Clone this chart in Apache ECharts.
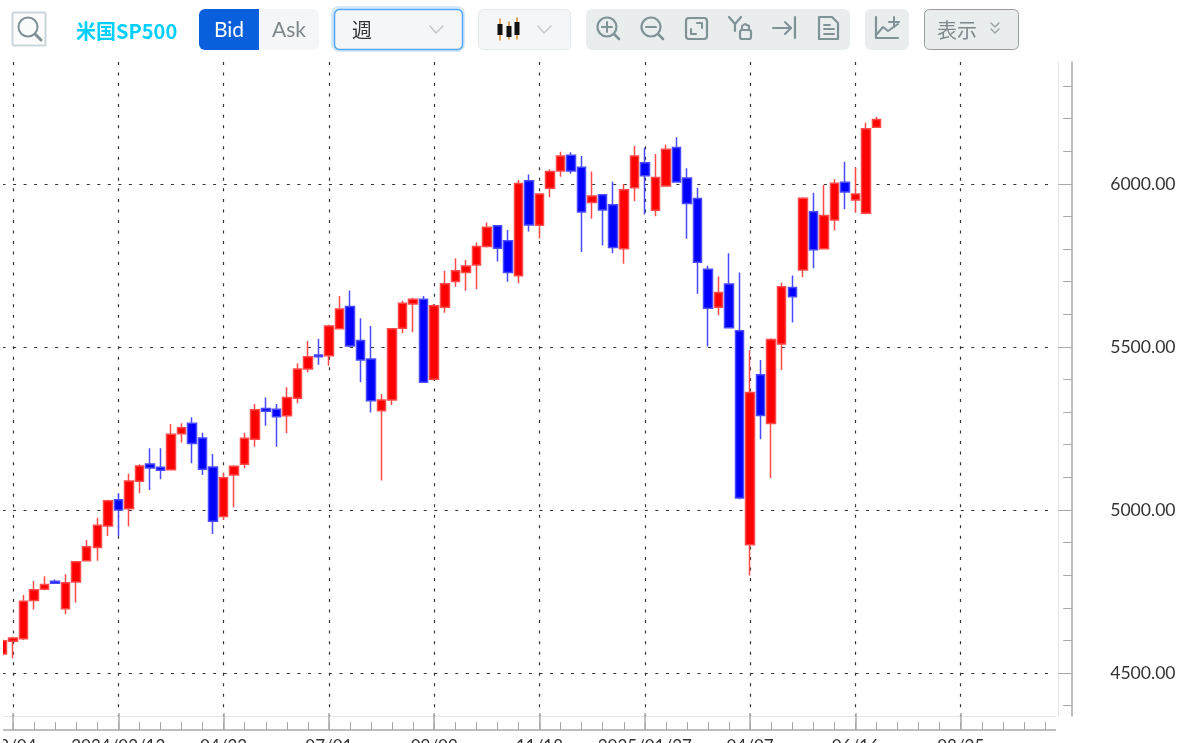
<!DOCTYPE html>
<html><head><meta charset="utf-8">
<style>html,body{margin:0;padding:0;background:#fff;overflow:hidden}#c{width:1182px;height:743px}</style>
<script src="https://cdn.jsdelivr.net/npm/echarts@6/dist/echarts.min.js"></script>
</head><body><div id="c"></div>
<script>
const categories=['2023/11/27','2023/12/04','2023/12/11','2023/12/18','2023/12/25','2024/01/01','2024/01/08','2024/01/15','2024/01/22','2024/01/29','2024/02/05','2024/02/12','2024/02/19','2024/02/26','2024/03/04','2024/03/11','2024/03/18','2024/03/25','2024/04/01','2024/04/08','2024/04/15','2024/04/22','2024/04/29','2024/05/06','2024/05/13','2024/05/20','2024/05/27','2024/06/03','2024/06/10','2024/06/17','2024/06/24','2024/07/01','2024/07/08','2024/07/15','2024/07/22','2024/07/29','2024/08/05','2024/08/12','2024/08/19','2024/08/26','2024/09/02','2024/09/09','2024/09/16','2024/09/23','2024/09/30','2024/10/07','2024/10/14','2024/10/21','2024/10/28','2024/11/04','2024/11/11','2024/11/18','2024/11/25','2024/12/02','2024/12/09','2024/12/16','2024/12/23','2024/12/30','2025/01/06','2025/01/13','2025/01/20','2025/01/27','2025/02/03','2025/02/10','2025/02/17','2025/02/24','2025/03/03','2025/03/10','2025/03/17','2025/03/24','2025/03/31','2025/04/07','2025/04/14','2025/04/21','2025/04/28','2025/05/05','2025/05/12','2025/05/19','2025/05/26','2025/06/02','2025/06/09','2025/06/16','2025/06/23','2025/06/30','2025/07/07','2025/07/14','2025/07/21','2025/07/28','2025/08/04','2025/08/11','2025/08/18','2025/08/25','2025/09/01','2025/09/08','2025/09/15','2025/09/22','2025/09/29','2025/10/06','2025/10/13','2025/10/20','2025/10/27'];
const tickLabels=['12/04','2024/02/12','04/22','07/01','09/09','11/18','2025/01/27','04/07','06/16','08/25'];
const opens=[4558,4597,4605,4722,4757,4781,4697,4779,4844,4885,4951,5031,5004,5088,5141,5131,5123,5234,5266,5221,5132,4980,5107,5140,5217,5311,5309,5289,5343,5432,5475,5473,5556,5624,5520,5463,5304,5337,5557,5632,5646,5401,5622,5701,5728,5751,5808,5872,5826,5718,6010,5873,5987,6040,6088,6051,5943,5967,5936,5801,5988,6065,5919,5994,6112,6018,5955,5738,5622,5693,5550,4893,5415,5265,5509,5682,5736,5915,5801,5889,6005,5951,5910,6174];
const closes=[4599,4607,4720,4755,4771,4775,4777,4841,4887,4953,5028,5000,5089,5135,5129,5122,5232,5252,5204,5125,4965,5099,5134,5220,5307,5303,5286,5345,5432,5470,5470,5564,5616,5503,5460,5335,5337,5556,5634,5646,5392,5626,5694,5734,5748,5808,5867,5803,5728,6001,5874,5969,6038,6086,6040,5914,5963,5920,5805,5982,6086,6025,6020,6106,6006,5940,5760,5619,5667,5559,5037,5360,5290,5523,5685,5654,5956,5798,5903,6002,5975,5969,6169,6198];
const lows=[4552,4545,4601,4695,4754,4773,4680,4716,4843,4844,4920,4920,4949,5051,5061,5094,5121,5207,5143,5107,4926,4969,5008,5128,5194,5258,5194,5235,5327,5422,5445,5442,5555,5499,5392,5299,5090,5322,5542,5545,5391,5397,5605,5685,5672,5677,5805,5762,5700,5695,5854,5833,5959,6022,6031,5791,5893,5811,5787,5755,5947,5906,5901,5992,6004,5832,5663,5501,5597,5557,5033,4799,5217,5097,5429,5575,5714,5741,5800,5857,5922,5912,5907,6174];
const highs=[4605,4611,4739,4782,4797,4787,4803,4843,4908,4976,5031,5051,5112,5140,5189,5189,5264,5266,5284,5237,5172,5114,5137,5237,5325,5345,5325,5376,5450,5518,5524,5568,5656,5673,5588,5564,5356,5558,5642,5651,5656,5632,5734,5772,5767,5820,5882,5874,5859,6012,6029,5971,6045,6099,6097,6086,6038,5968,6007,6000,6117,6111,6092,6121,6143,6048,5988,5749,5716,5787,5728,5491,5460,5527,5697,5719,5959,5973,5997,6014,6068,6050,6188,6206];
const majorPrices=[4500,5000,5500,6000];
const minorPrices=[4400,4500,4600,4700,4800,4900,5000,5100,5200,5300,5400,5500,5600,5700,5800,5900,6000,6100,6200,6300];

const candleData=opens.map((o,i)=>[o,closes[i],lows[i],highs[i]]);
const axisGray='#a9a9a9', iconGray='#7f9296';
const R=(x,y,w,h,fill,stroke,lw,r)=>({type:'rect',silent:true,shape:{x,y,width:w,height:h,r:r||0},style:{fill:fill||'none',stroke:stroke||'none',lineWidth:lw||0}});
const T=(text,x,y,font,fill,align)=>({type:'text',silent:true,style:{text,x,y,font,fill,align:align||'left',verticalAlign:'middle'}});
const P=(pts,stroke,lw)=>({type:'polyline',silent:true,shape:{points:pts},style:{stroke,lineWidth:lw||2,fill:'none',lineCap:'round',lineJoin:'round'}});
const C=(cx,cy,r,stroke,lw)=>({type:'circle',silent:true,shape:{cx,cy,r},style:{stroke,lineWidth:lw||2,fill:'none'}});
const lato='"Lato","Noto Sans CJK JP",sans-serif', jp='"Noto Sans CJK JP",sans-serif';
const toolbar=[
 Object.assign(R(0,62,3,681,'#ffffff'),{z:100}),
 R(12.5,12.5,33,33,'#fafbfb','#c9d6db',2,1),
 C(28,27,9.5,'#7f8f94',2),P([[35,34],[41,40]],'#7f8f94',3),
 T('米国SP500',76,31,'bold 20px '+jp,'#00cfff'),
 R(199,9,60,41,'#0a5fdc',null,0,[6,0,0,6]),
 R(259,9,60,41,'#f5f6f7',null,0,[0,6,6,0]),
 T('Bid',229,30,'21px '+lato,'#ffffff','center'),
 T('Ask',289,30,'21px '+lato,'#7d878c','center'),
 R(331,6,134,46,'#d3e8fb',null,0,8),
 R(334.5,9.5,128,40,'#f5f6f7','#55a7f5',1.5,5),
 T('週',352,30,'20px '+jp,'#333333'),
 P([[430,26],[436,33],[443,26]],'#c3c8cb',1.5),
 R(478.5,9.5,92,40,'#f5f6f7','#e4e9ec',1,5),
 P([[500,19],[500,40]],'#d98a2b',1.5),P([[509,22],[509,39]],'#d98a2b',1.5),P([[517,18],[517,39]],'#d98a2b',1.5),
 R(497.5,24,5,11,'#111'),R(506.5,26,5,11,'#111'),R(514.5,22,5,13,'#111'),
 P([[538,26],[544,33],[551,26]],'#c3c8cb',1.5),
 R(586,9,264,41,'#e9edee',null,0,6),
 C(607,27,9.5,iconGray,2.2),P([[614,34],[619,39]],iconGray,2.5),P([[602,27],[612,27]],iconGray,2),P([[607,22],[607,32]],iconGray,2),
 C(651,27,9.5,iconGray,2.2),P([[658,34],[663,39]],iconGray,2.5),P([[646,27],[656,27]],iconGray,2),
 R(686,18,21,21,'none',iconGray,2.2,3),P([[697,23],[702,23],[702,28]],iconGray,2),P([[691,29],[691,34],[696,34]],iconGray,2),
 P([[729,17],[735,24],[741,17]],iconGray,2.2),P([[735,24],[735,31]],iconGray,2.2),
 R(740,30,11,9,'none',iconGray,2.2,2),P([[742,30],[742,26],[745,24],[749,26],[749,30]],iconGray,2),
 P([[773,28],[791,28]],iconGray,2),P([[785,22],[791,28],[785,34]],iconGray,2),P([[795,17],[795,38]],iconGray,2.2),
 P([[819,17],[832,17],[838,23],[838,39],[819,39],[819,17]],iconGray,2.2),P([[824,25],[830,25]],iconGray,1.8),P([[824,29],[834,29]],iconGray,1.8),P([[824,34],[834,34]],iconGray,1.8),
 R(865,9,44,41,'#e9edee',null,0,6),
 P([[876,17],[876,38],[898,38]],iconGray,2.2),P([[877,34],[883,27],[888,31],[898,24]],iconGray,2),P([[894,17],[894,27]],iconGray,2),P([[889,22],[899,22]],iconGray,2),
 R(924.5,9.5,94,40,'#e9edee','#9a9a9a',1,5),
 T('表示',937,30,'20px '+jp,'#7d878c'),
 P([[991,23],[995,27],[999,23]],'#9aa5a8',1.5),P([[991,29],[995,33],[999,29]],'#9aa5a8',1.5),
 {type:'line',silent:true,shape:{x1:1058.5,y1:62,x2:1058.5,y2:716},style:{stroke:'#e6e6e6',lineWidth:1}}
];
const chart=echarts.init(document.getElementById('c'));
const dash={color:'#333',width:1.2,type:[3,7.53]};
const catAxis=o=>Object.assign({type:'category',data:categories,boundaryGap:false,gridIndex:0,position:'bottom'},o);
const priceAxis=o=>Object.assign({type:'value',gridIndex:0,position:'right',offset:16.7,min:4368,max:6374,scale:true},o);
chart.setOption({
 animation:false,
 grid:{left:2.5,top:62,width:1053,height:654,containLabel:false,outerBoundsMode:'none'},
 tooltip:{show:false},
 graphic:{elements:toolbar},
 xAxis:[
  catAxis({axisLine:{lineStyle:{color:'#e6e6e6'},onZero:false},axisTick:{show:false},axisLabel:{show:false},
    splitLine:{show:true,interval:(i)=>i%10===1,lineStyle:dash}}),
  catAxis({offset:14,axisLine:{lineStyle:{color:axisGray,width:1.5}},axisLabel:{show:false},splitLine:{show:false},
    axisTick:{show:true,inside:true,length:8,interval:(i)=>i%2===1,lineStyle:{color:axisGray}}}),
  catAxis({offset:14,axisLine:{show:false},splitLine:{show:false},
    axisTick:{show:true,inside:true,length:17,interval:(i)=>i%10===1,lineStyle:{color:axisGray,width:1.5}},
    axisLabel:{show:true,interval:(i)=>i%10===1,margin:8,fontFamily:'Lato',fontSize:17,color:'#333',
      formatter:(v,i)=>tickLabels[(i-1)/10]}})
 ],
 yAxis:[
  priceAxis({axisLine:{show:true,lineStyle:{color:axisGray,width:1.5}},splitLine:{show:true,lineStyle:dash},
    axisTick:{show:true,inside:true,length:14,customValues:majorPrices,lineStyle:{color:axisGray}},
    axisLabel:{show:true,inside:false,customValues:majorPrices,margin:38,fontFamily:'Lato',fontSize:17.6,color:'#333',align:'left',formatter:v=>v.toFixed(2)}}),
  priceAxis({axisLine:{show:false},splitLine:{show:false},axisLabel:{show:false},
    axisTick:{show:true,inside:true,length:9,customValues:minorPrices,lineStyle:{color:axisGray}}})
 ],
 series:[{type:'candlestick',xAxisIndex:0,yAxisIndex:0,barWidth:9,data:candleData,
   itemStyle:{color:'#ff0000',color0:'#0000ff',borderColor:'#ff4a4a',borderColor0:'#4a4aff',borderWidth:1.5}}]
});
</script></body></html>
